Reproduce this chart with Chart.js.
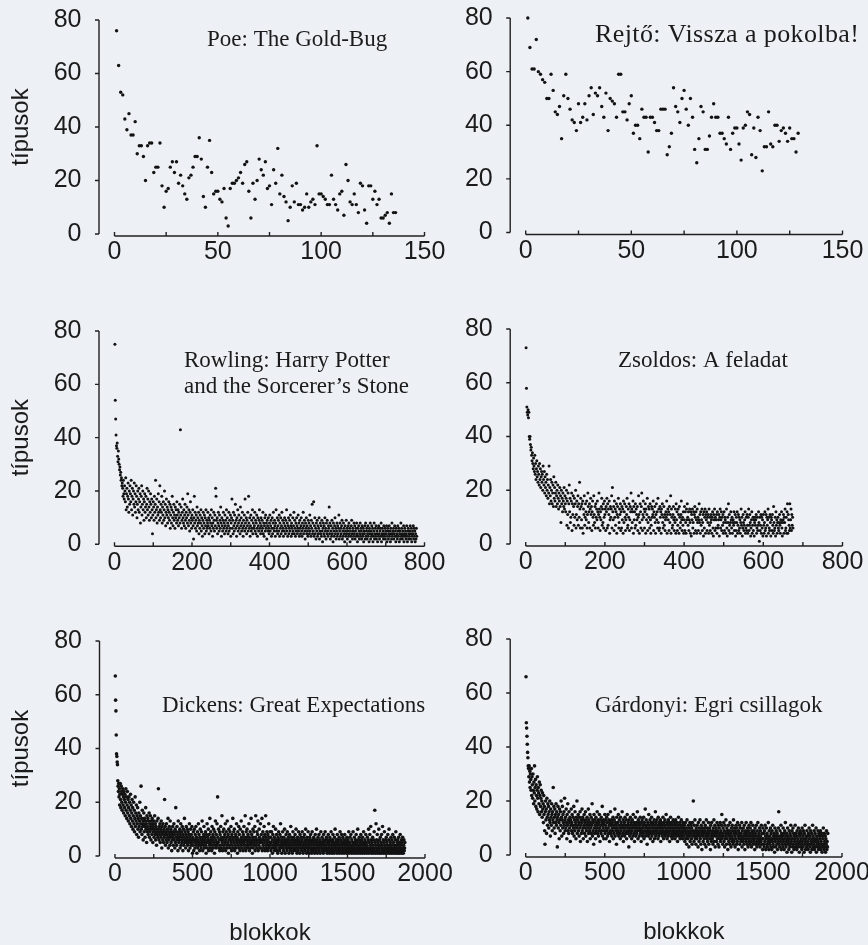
<!DOCTYPE html>
<html>
<head>
<meta charset="utf-8">
<script src="https://cdn.jsdelivr.net/npm/chart.js@4.4.1/dist/chart.umd.min.js"></script>
<style>
  html, body { margin: 0; padding: 0; }
  body { width: 868px; height: 945px; overflow: hidden; position: relative; background: #edf0f4; }
  canvas { position: absolute; }
</style>
</head>
<body>
<canvas id="poe"></canvas>
<canvas id="rejto"></canvas>
<canvas id="rowling"></canvas>
<canvas id="zsoldos"></canvas>
<canvas id="dickens"></canvas>
<canvas id="gardonyi"></canvas>
<script>
// types (típusok) per block, block number = position in the array
const poeTypes = [
  76,63,53,52,43,39,45,37,37,42,30,33,33,29,20,33,34,34,23,25,
  25,34,18,10,16,17,25,27,23,27,19,22,18,15,13,21,22,25,29,29,
  36,28,14,10,25,35,23,15,16,16,13,12,17,6,3,17,19,19,20,21,
  23,19,26,27,16,6,19,13,20,28,24,22,27,17,18,11,24,19,32,15,
  22,14,12,5,10,18,12,19,11,11,9,10,15,10,12,13,11,33,15,15,
  14,13,11,11,22,13,11,9,15,16,7,26,20,12,11,15,11,8,19,18,
  9,4,18,18,13,16,11,13,6,6,7,8,4,15,8,8
];

const rejtoTypes = [
  80,69,61,61,72,60,59,57,56,50,50,59,53,45,44,47,35,51,59,50,
  46,42,41,38,48,41,43,48,42,51,54,44,52,51,54,47,43,52,38,50,
  49,48,43,59,59,45,45,42,48,51,37,40,40,35,46,43,43,30,43,43,
  41,38,38,46,46,46,29,32,37,54,47,45,41,50,53,46,40,50,43,31,
  26,35,47,45,31,31,36,43,48,43,43,37,37,35,33,43,31,37,39,39,
  33,27,39,40,45,44,29,39,28,43,38,23,32,32,45,33,32,40,40,34,
  38,39,37,34,39,35,35,30,37
];

const rowlingTypes = [
  75,54,47,41,37,36,38,33,31,35,32,30,28,29,26,27,24,25,22,23,
  21,18,24,19,17,22,20,16,25,13,19,21,14,18,23,17,12,20,15,22,
  19,16,24,13,18,21,11,17,20,15,23,14,19,12,16,22,18,10,15,20,
  13,17,21,12,16,19,8,14,18,22,11,15,20,13,17,9,16,19,12,14,
  18,10,15,21,13,17,11,20,14,9,16,12,19,15,10,17,13,4,11,16,
  14,9,18,12,15,24,10,13,17,8,14,11,19,12,16,9,22,13,10,15,
  12,18,8,14,11,16,9,13,20,10,15,7,12,17,11,14,8,13,10,16,
  12,9,15,6,11,14,8,13,18,10,7,12,15,9,11,6,14,10,13,8,
  16,11,9,13,7,12,10,15,8,43,11,14,6,9,12,17,10,8,13,7,
  11,15,9,6,12,10,14,8,19,11,7,13,9,5,12,16,8,10,6,11,
  9,13,7,2,10,18,8,12,6,9,11,5,14,7,10,8,12,4,9,6,
  11,8,13,5,10,7,3,9,12,6,8,11,4,10,7,13,5,9,6,8,
  12,7,10,4,9,6,11,8,5,13,7,10,3,8,6,12,9,5,11,7,
  21,18,9,6,10,4,8,12,7,5,11,9,6,14,8,3,10,7,5,9,
  12,6,8,4,11,7,9,5,13,6,10,8,4,7,12,5,9,6,11,3,
  8,10,17,6,9,4,12,7,5,11,8,15,6,9,3,10,7,13,5,8,
  11,6,9,4,14,7,10,5,8,12,6,3,9,7,11,5,17,8,6,10,
  4,9,7,12,5,18,8,6,10,3,7,11,5,9,6,13,4,8,10,6,
  7,12,5,9,4,8,11,6,3,10,7,5,9,13,6,8,4,10,7,5,
  9,6,12,4,8,3,7,10,5,11,6,8,2,9,7,5,10,6,4,8,
  11,5,7,9,3,6,10,4,8,12,6,5,9,7,3,8,13,5,6,10,
  4,7,9,5,11,3,8,6,10,4,7,12,5,9,6,3,8,5,10,7,
  4,9,6,13,5,8,3,7,10,4,6,9,5,11,7,3,8,6,4,10,
  5,7,12,4,9,6,3,8,5,10,7,4,6,11,5,8,3,9,6,4,
  7,10,5,3,8,6,12,4,7,9,5,2,8,6,10,4,7,5,3,9,
  6,8,4,11,5,7,3,9,6,15,4,8,5,16,3,7,10,4,6,2,
  8,5,9,3,7,4,6,10,2,5,8,4,7,3,9,5,1,6,8,4,
  7,3,10,5,6,2,8,4,9,5,3,7,6,14,4,8,2,5,7,3,
  9,4,6,1,8,5,3,7,10,4,6,2,5,8,3,7,4,6,11,2,
  5,8,3,6,4,7,9,2,5,3,8,6,4,1,7,5,3,9,4,6,
  2,5,7,3,8,4,6,1,5,3,7,9,4,2,6,5,3,8,4,7,
  2,5,6,3,8,4,1,6,3,7,5,2,4,8,3,6,5,2,7,4,
  3,6,1,5,4,7,2,8,3,5,6,2,4,7,3,5,1,6,4,8,
  2,5,3,7,4,6,1,3,5,8,2,4,6,3,7,2,5,4,1,6,
  3,7,4,2,5,6,3,8,1,4,6,3,5,2,7,4,3,6,2,5,
  4,7,1,3,6,5,2,4,7,3,5,1,6,4,2,8,3,5,4,6,
  2,4,7,3,5,1,6,3,4,2,7,5,3,6,1,4,5,2,8,3,
  6,4,2,5,3,7,1,4,6,3,5,2,4,7,3,1,5,6,2,4,
  3,5,7,2,4,6,1,3,5,4,7,2,6,3,5,1,4,2,6,3
];

const zsoldosTypes = [
  73,58,51,49,48,50,47,49,40,39,40,37,35,36,33,31,34,30,28,32,
  29,27,33,26,30,24,28,31,25,27,23,29,26,22,30,24,28,21,25,27,
  23,26,20,29,24,22,27,19,25,21,23,18,26,20,24,17,22,19,29,15,
  21,18,24,16,20,23,15,19,22,14,25,17,21,16,19,23,14,18,20,15,
  22,17,13,19,16,21,14,18,8,20,15,17,12,19,16,14,21,13,18,15,
  12,17,20,7,16,11,19,6,15,22,12,17,8,10,16,19,5,15,11,18,
  14,7,17,10,15,20,6,11,16,9,14,18,7,15,10,23,13,6,17,14,
  9,15,6,16,4,13,11,18,7,10,15,12,9,16,6,11,19,14,8,12,
  15,6,13,17,11,14,5,12,16,10,7,18,11,8,14,6,15,10,13,9,
  16,12,6,11,19,13,10,5,12,9,14,17,7,13,8,15,6,10,16,11,
  13,5,14,12,17,6,15,7,13,11,16,4,9,14,10,13,18,6,21,12,
  9,14,5,16,10,13,7,12,15,4,11,14,10,17,6,8,13,11,15,5,
  12,6,14,9,13,4,16,8,12,15,10,5,9,14,11,17,6,7,13,10,
  15,5,9,14,12,19,6,13,8,12,16,4,14,9,12,6,15,7,13,11,
  9,14,5,10,18,11,4,8,15,12,6,14,19,9,5,11,16,10,13,6,
  12,15,4,13,9,11,17,5,8,14,10,13,6,15,9,4,7,14,10,13,
  11,16,5,12,10,14,8,4,11,15,9,12,6,17,8,13,5,6,14,10,
  12,4,13,11,15,8,6,10,14,7,11,5,9,12,10,16,4,11,13,9,
  12,5,14,8,11,18,4,13,10,6,7,11,14,9,5,10,8,13,4,15,
  9,12,5,7,13,11,4,14,10,6,8,11,16,9,5,10,7,12,4,9,
  14,5,12,8,4,13,9,15,10,7,12,5,9,13,8,4,12,3,11,9,
  13,6,8,12,4,11,14,10,5,12,9,4,13,8,10,5,9,15,8,11,
  4,12,7,9,13,5,8,11,3,12,6,10,13,4,11,9,12,5,10,8,
  11,4,13,7,10,5,8,11,9,4,10,12,6,3,11,9,13,5,10,6,
  9,11,4,12,6,7,9,11,3,10,13,6,9,12,5,10,7,11,4,8,
  12,5,10,9,4,8,13,6,3,10,8,15,5,11,7,4,8,12,9,6,
  10,4,8,9,7,12,5,8,11,3,5,10,8,12,4,7,11,5,10,6,
  9,4,8,13,7,10,3,6,11,8,5,7,9,12,4,6,10,5,11,7,
  4,10,13,5,7,11,8,3,6,9,12,4,7,10,5,9,3,8,10,7,
  9,11,4,6,10,5,7,12,8,1,10,5,7,11,4,10,6,9,3,11,
  7,4,8,12,5,6,11,3,10,7,9,13,4,10,6,5,11,8,3,10,
  9,5,11,7,4,14,8,5,6,10,3,12,7,9,4,8,10,6,5,8,
  11,7,4,9,8,12,6,3,8,9,11,4,10,8,13,5,6,10,4,12,
  15,4,11,9,7,5,15,6,9,13,5,11,7,10,6
];

// the two long novels: one value for every second block
const dickensBlockStep = 2;
const dickensTypes = [
  67,58,54,45,38,37,35,34,28,26,24,27,22,25,19,23,27,21,18,26,
  24,20,17,23,25,19,22,16,24,21,18,23,15,20,25,17,22,14,19,24,
  16,21,13,18,22,15,20,12,17,23,14,19,11,16,21,13,18,10,15,20,
  12,17,9,14,22,11,16,13,19,8,15,12,18,10,14,7,16,11,13,20,
  9,15,12,26,10,14,8,17,11,13,6,12,16,9,14,11,7,13,18,10,
  12,5,15,9,11,14,8,13,10,16,7,12,9,15,11,6,13,10,8,14,
  12,5,11,9,13,7,10,15,8,12,6,11,9,4,13,8,10,7,14,25,
  9,6,11,8,12,5,10,7,13,9,3,11,8,6,12,9,5,10,7,21,
  8,11,4,9,6,12,8,5,10,7,14,3,9,6,11,8,4,13,7,10,
  5,9,2,8,6,11,7,4,9,12,6,8,3,10,5,18,7,9,4,11,
  6,8,2,13,7,5,9,6,10,3,8,12,4,7,9,5,11,6,2,8,
  10,4,7,14,5,9,6,3,8,11,5,7,10,4,6,9,2,8,5,12,
  7,3,6,10,4,8,5,11,6,1,7,4,9,2,6,10,5,3,8,6,
  11,4,7,1,5,9,3,6,12,4,8,5,2,7,10,4,6,3,9,5,
  13,7,2,6,4,8,11,5,3,7,6,9,4,1,8,5,12,3,7,6,
  10,2,5,8,4,14,6,3,9,5,7,2,11,4,6,8,3,10,5,7,
  1,9,4,13,6,3,8,5,12,4,22,7,5,10,3,6,9,2,8,4,
  11,6,3,7,15,5,2,9,6,4,10,7,3,8,5,12,2,6,9,4,
  7,13,3,5,8,1,10,6,4,7,9,3,6,11,5,2,8,4,7,14,
  6,3,9,5,10,2,7,4,8,6,3,12,5,7,1,9,4,6,11,3,
  8,5,2,10,6,4,13,7,3,5,9,6,2,8,4,11,5,7,3,15,
  6,2,9,4,7,10,5,3,8,6,4,12,7,2,5,9,3,6,14,4,
  8,5,1,7,10,3,6,9,4,5,11,2,7,15,4,6,3,9,5,8,
  13,2,6,4,10,7,3,5,12,6,3,8,5,14,2,6,9,4,7,3,
  11,5,8,2,6,15,4,7,3,9,5,2,8,6,4,12,3,7,5,9,
  4,7,2,5,9,3,6,1,8,4,11,3,5,7,2,6,4,10,3,5,
  8,2,6,4,1,7,5,9,3,6,2,8,4,12,3,5,7,1,6,4,
  9,3,5,2,7,4,10,6,1,5,3,8,4,6,2,9,5,3,7,4,
  1,6,8,3,5,2,11,4,7,3,6,1,5,9,4,2,7,3,6,5,
  8,2,4,10,3,6,1,5,7,4,2,9,3,6,5,1,8,4,3,7,
  5,2,6,9,3,4,1,7,5,3,8,2,6,4,10,3,5,1,7,4,
  6,2,9,3,5,4,1,7,3,6,8,2,5,4,1,9,3,6,2,5,
  7,3,4,1,6,8,2,5,3,10,4,6,1,3,7,5,2,8,4,3,
  6,1,5,9,3,4,2,7,5,3,6,1,8,4,2,5,3,9,6,2,
  4,7,3,1,5,6,2,8,4,3,5,1,7,3,6,2,9,4,5,1,
  3,6,8,2,4,5,1,7,3,10,4,2,6,5,3,1,8,4,6,2,
  5,3,7,1,4,9,2,6,3,5,8,1,4,3,7,2,5,6,1,4,
  8,3,5,2,6,4,1,7,3,5,2,6,4,9,1,3,5,7,2,4,
  8,3,1,6,4,2,5,9,3,1,4,7,2,5,3,6,1,8,4,2,
  5,3,10,1,6,4,2,7,3,5,1,4,8,2,6,3,5,1,7,4,
  2,9,3,5,1,6,4,2,8,3,5,1,4,7,2,3,6,10,1,5,
  3,8,2,4,11,6,1,3,5,2,7,4,1,6,3,9,2,17,5,1,
  4,12,3,6,2,8,1,5,3,4,10,2,6,1,4,7,3,5,1,8,
  2,4,11,3,6,1,5,2,9,3,4,1,6,3,7,2,5,1,4,8,
  3,2,6,10,1,4,3,5,2,7,1,4,6,2,3,8,1,5,3,2,
  7,4,1,6,3,9,2,4,1,5,3,6,2,1,7,4,3,5,1,8,
  2,4,3,6,1,5,2,7,3,1,4,6,2,3,5
];

const gardonyiBlockStep = 2;
const gardonyiTypes = [
  66,49,47,44,41,38,36,33,32,29,33,27,31,25,30,28,24,32,22,29,
  26,21,30,24,19,27,23,33,20,25,28,18,26,22,17,24,29,21,16,25,
  23,19,27,15,22,26,18,21,24,16,20,14,23,17,19,12,22,15,18,9,
  4,16,20,13,17,8,21,14,11,19,15,18,10,16,13,20,12,7,17,14,
  11,19,15,9,16,13,25,12,18,10,14,17,8,15,12,19,11,16,13,3,
  14,18,10,15,12,6,17,13,9,16,11,20,14,7,13,18,10,15,12,8,
  16,11,21,13,9,14,10,17,12,6,15,11,19,9,13,8,16,12,10,14,
  5,13,11,17,9,12,15,8,11,14,10,18,7,13,9,16,11,12,6,14,
  10,20,8,13,11,15,9,12,7,14,10,16,5,11,13,8,12,17,9,14,
  10,6,13,11,15,8,12,10,16,7,13,9,11,14,5,12,10,17,8,13,
  11,9,15,6,12,10,14,8,11,19,7,13,9,12,4,15,10,8,13,11,
  6,14,9,12,10,16,8,11,13,7,12,9,15,10,5,13,11,8,14,9,
  12,18,7,11,10,13,6,12,9,15,8,11,13,6,10,14,9,12,7,15,
  10,8,13,11,5,12,9,16,8,11,13,7,10,12,9,14,6,11,8,13,
  10,17,7,12,9,11,4,14,10,8,12,9,15,7,11,13,8,10,6,14,
  9,12,11,7,16,10,8,13,5,11,9,12,7,14,10,8,11,13,6,9,
  15,11,8,12,10,3,13,9,7,11,14,8,10,12,6,9,13,11,7,15,
  10,8,12,5,11,9,14,7,10,12,8,11,16,9,6,13,10,12,7,11,
  9,14,8,10,5,12,9,13,7,11,10,8,14,6,12,9,11,17,7,10,
  13,8,11,4,9,12,10,7,15,8,11,9,13,6,10,12,8,14,7,11,
  9,5,12,10,8,13,6,11,9,16,7,12,10,8,13,9,11,6,14,10,
  7,12,8,11,9,13,5,10,12,8,11,7,9,14,10,6,12,8,11,13,
  7,9,10,15,8,12,6,11,9,7,13,10,8,12,5,11,9,14,7,10,
  12,8,6,11,9,13,7,10,8,12,9,6,11,13,8,10,7,12,9,5,
  11,8,14,10,7,9,12,6,11,8,10,13,7,9,11,6,12,8,10,9,
  7,11,5,9,12,6,8,10,4,13,7,9,6,11,8,3,10,7,12,5,
  9,8,11,6,10,4,12,7,9,20,8,5,11,7,13,6,9,4,10,8,
  6,11,7,9,3,12,8,5,10,7,13,6,9,4,11,8,2,10,7,9,
  5,12,8,6,10,4,9,11,7,3,13,8,6,10,5,9,7,12,4,8,
  10,6,9,2,11,7,5,12,8,6,9,4,10,7,13,5,8,11,3,9,
  7,10,5,8,12,6,9,4,11,7,3,10,8,6,12,5,9,7,11,15,
  6,8,4,10,7,12,5,9,3,11,6,8,13,7,4,10,6,9,2,8,
  11,5,7,9,4,12,6,8,3,10,7,5,11,9,6,4,13,8,5,10,
  7,3,9,6,11,8,4,10,5,12,7,2,9,6,8,11,4,7,10,5,
  8,6,12,3,9,7,5,10,6,4,11,8,2,7,9,5,12,6,8,4,
  10,7,3,9,5,11,6,8,4,10,7,12,5,3,9,6,8,11,4,7,
  5,9,6,2,10,8,4,7,11,5,3,9,6,12,7,4,8,5,10,6,
  3,9,7,5,11,4,8,6,2,10,6,4,8,3,9,5,11,7,2,6,
  10,4,8,3,7,5,12,6,2,9,4,7,5,10,3,8,6,2,9,5,
  11,4,7,3,6,8,1,10,5,7,3,9,6,4,8,2,7,5,10,16,
  4,6,3,9,7,5,11,2,8,6,4,7,3,10,5,8,2,6,9,4,
  12,7,3,5,8,1,6,10,4,7,5,2,9,6,3,8,4,11,7,5,
  1,9,6,3,10,4,8,2,7,5,6,11,3,8,4,7,2,9,5,6,
  3,10,4,8,1,7,5,9,3,6,8,4,2,10,5,7,3,9,6,1,
  8,4,11,5,2,7,6,3,9,4,7,5,2,8,4,10,6,3,7,1,
  9,5,4,8,2,6,11,3,7,5,4,9,2,6,8,3,5,10,1,7,
  4,6,3,9,5,2,8,4,7,3,6,9,2,5,8,4,1,7,3,6,
  10,4,2,8,5,3,7,1,6,4,9,2,5,3,8
];

const poeXLabels = [0, 50, 100, 150];
const rejtoXLabels = [0, 50, 100, 150];
const rowlingXLabels = [0, 200, 400, 600, 800];
const zsoldosXLabels = [0, 200, 400, 600, 800];
const dickensXLabels = [0, 500, 1000, 1500, 2000];
const gardonyiXLabels = [0, 500, 1000, 1500, 2000];
const yTickValues = [0, 20, 40, 60, 80];

const poeTitle = ['Poe: The Gold-Bug'];
const rejtoTitle = ['Rejtő: Vissza a pokolba!'];
const rowlingTitle = ['Rowling: Harry Potter', 'and the Sorcerer\u2019s Stone'];
const zsoldosTitle = ['Zsoldos: A feladat'];
const dickensTitle = ['Dickens: Great Expectations'];
const gardonyiTitle = ['Gárdonyi: Egri csillagok'];

const yAxisTitle = 'típusok';
const xAxisTitle = 'blokkok';

const sansFont = '"Liberation Sans", Arial, sans-serif';
const serifFont = '"Liberation Serif", "Times New Roman", serif';
const ink = '#1b1b1b';

// layout of each panel in page pixels
const panels = [
  { id: 'poe', values: poeTypes, step: 1, labels: poeXLabels, minor: 25, title: poeTitle,
    left: 0, width: 470, y80: 20, y0: 234, x0: 114.5, xEnd: 424.5, tx: 207, ty: 45.7,
    titleSize: 23, spacing: 0, yTitle: true, xTitle: false, r: 1.7 },
  { id: 'rejto', values: rejtoTypes, step: 1, labels: rejtoXLabels, minor: 25, title: rejtoTitle,
    left: 434, width: 460, y80: 17.5, y0: 232, x0: 525.7, xEnd: 842.5, tx: 595, ty: 41,
    titleSize: 26, spacing: 0.4, yTitle: false, xTitle: false, r: 1.7 },
  { id: 'rowling', values: rowlingTypes, step: 1, labels: rowlingXLabels, minor: 100, title: rowlingTitle,
    left: 0, width: 470, y80: 330.7, y0: 544, x0: 114.5, xEnd: 424.5, tx: 184, ty: 366.7,
    titleSize: 23, spacing: 0, yTitle: true, xTitle: false, r: 1.5 },
  { id: 'zsoldos', values: zsoldosTypes, step: 1, labels: zsoldosXLabels, minor: 100, title: zsoldosTitle,
    left: 434, width: 460, y80: 329, y0: 544, x0: 525.7, xEnd: 842.5, tx: 618, ty: 366.7,
    titleSize: 23, spacing: 0, yTitle: false, xTitle: false, r: 1.5 },
  { id: 'dickens', values: dickensTypes, step: dickensBlockStep, labels: dickensXLabels, minor: 250, title: dickensTitle,
    left: 0, width: 470, y80: 640.7, y0: 855.7, x0: 115, xEnd: 425, tx: 162, ty: 711.7,
    titleSize: 23, spacing: 0, yTitle: true, xTitle: true, r: 1.8 },
  { id: 'gardonyi', values: gardonyiTypes, step: gardonyiBlockStep, labels: gardonyiXLabels, minor: 250, title: gardonyiTitle,
    left: 434, width: 460, y80: 639, y0: 855, x0: 525.7, xEnd: 842, tx: 595, ty: 711.7,
    titleSize: 23, spacing: 0, yTitle: false, xTitle: true, r: 1.8 }
];

// detached axes (y line at the left, x line under the data) plus the panel title
const detachedAxes = {
  id: 'detachedAxes',
  afterDraw(chart, args, opts) {
    const { ctx, chartArea } = chart;
    const x = chart.scales.x, y = chart.scales.y;
    const axisX = chartArea.left - opts.gap;
    const yTop = y.getPixelForValue(yTickValues[yTickValues.length - 1]);
    const yBot = y.getPixelForValue(yTickValues[0]);
    const lineY = yBot + 2;
    ctx.save();
    ctx.strokeStyle = '#202020';
    ctx.lineWidth = 1.4;
    ctx.beginPath();
    ctx.moveTo(axisX, yTop);
    ctx.lineTo(axisX, yBot);
    y.ticks.forEach(t => {
      const py = y.getPixelForValue(t.value);
      ctx.moveTo(axisX - 4, py);
      ctx.lineTo(axisX, py);
    });
    ctx.moveTo(x.getPixelForValue(x.min), lineY);
    ctx.lineTo(x.getPixelForValue(x.max), lineY);
    x.ticks.forEach(t => {
      const px = x.getPixelForValue(t.value);
      ctx.moveTo(px, lineY);
      ctx.lineTo(px, lineY - 4);
    });
    ctx.stroke();

    ctx.fillStyle = ink;
    ctx.font = opts.size + 'px ' + serifFont;
    ctx.textAlign = 'left';
    ctx.textBaseline = 'alphabetic';
    ctx.letterSpacing = opts.spacing + 'px';
    opts.lines.forEach((line, i) => ctx.fillText(line, opts.tx, opts.ty + i * opts.lineGap));
    ctx.restore();
  }
};

function buildPanel(p) {
  const canvas = document.getElementById(p.id);
  const top = p.y80 - 50;
  const h = Math.ceil(p.y0 - top + (p.xTitle ? 95 : 55));
  const xh = h - (p.y0 - top);
  canvas.width = p.width;
  canvas.height = h;
  canvas.style.left = p.left + 'px';
  canvas.style.top = top + 'px';
  canvas.style.width = p.width + 'px';
  canvas.style.height = h + 'px';

  const points = p.values.map((v, i) => ({ x: (i + 1) * p.step, y: v }));
  const xMax = p.labels[p.labels.length - 1];

  return new Chart(canvas.getContext('2d'), {
    type: 'scatter',
    data: {
      datasets: [{
        data: points,
        pointRadius: p.r,
        pointHoverRadius: p.r,
        pointBackgroundColor: '#121212',
        pointBorderWidth: 0,
        clip: false
      }]
    },
    options: {
      responsive: false,
      maintainAspectRatio: false,
      animation: false,
      events: [],
      layout: { padding: { top: 50, left: 0, bottom: 0, right: p.left + p.width - p.xEnd } },
      plugins: {
        legend: { display: false },
        tooltip: { enabled: false },
        detachedAxes: { gap: 15.5, tx: p.tx - p.left, ty: p.ty - top,
          lines: p.title, lineGap: 25.6, size: p.titleSize, spacing: p.spacing }
      },
      scales: {
        x: {
          type: 'linear',
          min: 0,
          max: xMax,
          grid: { display: false, drawTicks: false },
          border: { display: false },
          ticks: {
            stepSize: p.minor,
            autoSkip: false,
            maxRotation: 0,
            padding: 3.5,
            color: ink,
            font: { family: sansFont, size: 25 },
            callback: v => (p.labels.includes(v) ? String(v) : '')
          },
          title: {
            display: p.xTitle,
            text: xAxisTitle,
            color: ink,
            font: { family: sansFont, size: 24 },
            padding: { top: 0, bottom: 3 }
          },
          afterFit: s => { s.height = xh; }
        },
        y: {
          min: 0,
          max: 80,
          grid: { display: false, drawTicks: false },
          border: { display: false },
          ticks: {
            stepSize: 20,
            padding: 33,
            color: ink,
            font: { family: sansFont, size: 25 }
          },
          title: {
            display: p.yTitle,
            text: yAxisTitle,
            color: ink,
            font: { family: sansFont, size: 24 },
            padding: { top: 6.6, bottom: 0 }
          },
          afterFit: s => { s.width = p.x0 - p.left; }
        }
      }
    },
    plugins: [detachedAxes]
  });
}

panels.forEach(buildPanel);
</script>
</body>
</html>
